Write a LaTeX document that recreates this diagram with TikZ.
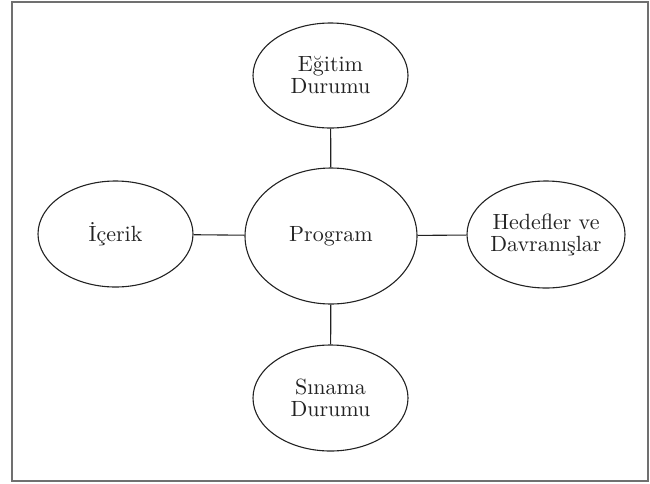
\documentclass[tikz,border=0pt]{standalone}
\usepackage{fontspec}
\setmainfont{lmroman10-regular}[Extension=.otf]
\usetikzlibrary{shapes.geometric}
\definecolor{framegray}{HTML}{707070}
\definecolor{inkc}{HTML}{222222}
\tikzset{
  bub/.style={ellipse, draw=inkc, line width=1.1pt, inner sep=0pt, align=center,
    text=inkc, font=\fontsize{22}{22}\selectfont},
  conn/.style={draw=inkc, line width=1.1pt}
}
\begin{document}
\begin{tikzpicture}[x=1pt,y=-1pt]
\useasboundingbox (0,0) rectangle (650,483);
\draw[framegray, line width=2pt] (11.5,2) rectangle (647.5,480.5);
\node[bub, minimum width=172pt, minimum height=136pt] (prog) at (331,236) {Program};
\node[bub, minimum width=155pt, minimum height=105pt] (egit) at (330.5,75.5) {Eğitim\\Durumu};
\node[bub, minimum width=155pt, minimum height=106pt] (sina) at (330.5,398) {Sınama\\Durumu};
\node[bub, minimum width=155pt, minimum height=106pt] (icer) at (115.5,234) {İçerik};
\node[bub, minimum width=158pt, minimum height=107pt] (hede) at (546,234.5) {Hedefler ve\\Davranışlar};
\draw[conn] (egit) -- (prog);
\draw[conn] (prog) -- (sina);
\draw[conn] (icer) -- (prog);
\draw[conn] (prog) -- (hede);
\end{tikzpicture}
\end{document}
